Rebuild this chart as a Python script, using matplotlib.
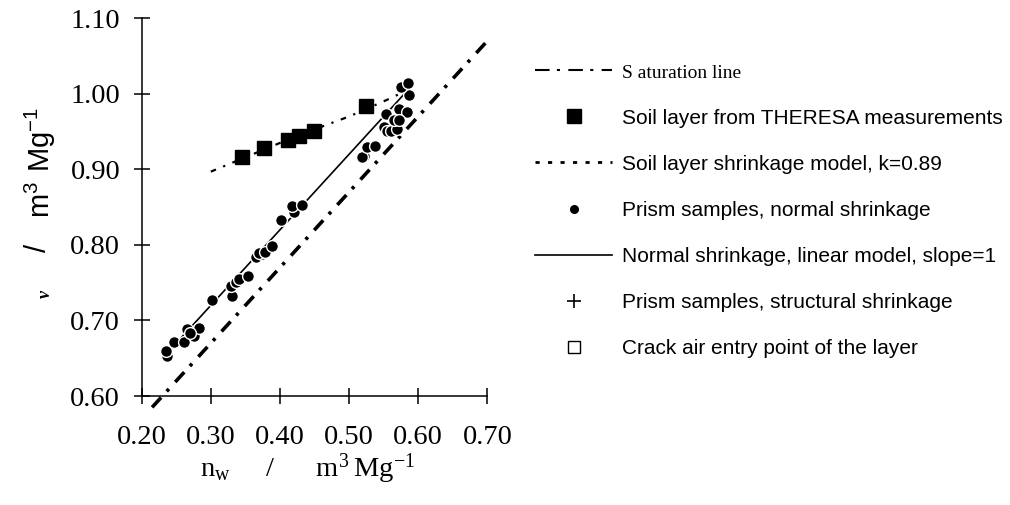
import matplotlib
matplotlib.use("Agg")
import matplotlib.pyplot as plt
from matplotlib.lines import Line2D

# saturation line (slope 1)
sat_nw = [0.215, 0.70]
sat_v = [0.585, 1.07]

# soil layer, THERESA measurements
layer_nw = [0.345, 0.377, 0.411, 0.427, 0.449, 0.524]
layer_v = [0.917, 0.928, 0.939, 0.944, 0.951, 0.984]

# soil layer shrinkage model, k=0.89
model_nw = [0.30, 0.35, 0.40, 0.45, 0.50, 0.55, 0.585]
model_v = [0.897, 0.916, 0.935, 0.953, 0.970, 0.990, 1.005]

# normal shrinkage linear model, slope 1
lin_nw = [0.23, 0.585]
lin_v = [0.650, 1.005]

# prism samples, normal shrinkage
prism_nw = [0.237, 0.235, 0.247, 0.261, 0.266, 0.276, 0.283, 0.270, 0.301,
            0.331, 0.329, 0.336, 0.341, 0.354, 0.365, 0.374, 0.370, 0.379,
            0.389, 0.401, 0.420, 0.418, 0.432, 0.521, 0.519, 0.526, 0.538,
            0.550, 0.555, 0.560, 0.570, 0.553, 0.572, 0.584, 0.565, 0.572,
            0.586, 0.575, 0.585]
prism_v = [0.653, 0.660, 0.672, 0.672, 0.689, 0.680, 0.690, 0.684, 0.727,
           0.733, 0.746, 0.751, 0.755, 0.759, 0.784, 0.788, 0.789, 0.791,
           0.798, 0.833, 0.844, 0.851, 0.853, 0.918, 0.916, 0.929, 0.931,
           0.956, 0.951, 0.951, 0.954, 0.973, 0.980, 0.976, 0.965, 0.965,
           0.998, 1.009, 1.014]

xticks = [0.20, 0.30, 0.40, 0.50, 0.60, 0.70]
yticks = [0.60, 0.70, 0.80, 0.90, 1.00, 1.10]

legend_labels = [
    "S aturation line",
    "Soil layer from THERESA measurements",
    "Soil layer shrinkage model, k=0.89",
    "Prism samples, normal shrinkage",
    "Normal shrinkage, linear model, slope=1",
    "Prism samples, structural shrinkage",
    "Crack air entry point of the layer",
]

serif = "Liberation Serif"
sans = "Liberation Sans"

fig = plt.figure(figsize=(10.1, 5.05), dpi=100)
ax = fig.add_axes([0.1403, 0.2158, 0.3422, 0.748])

ax.plot(sat_nw, sat_v, color="k", lw=2.6, dashes=(3.7, 2.3, 0.9, 2.6),
        clip_on=False, zorder=2)
ax.plot(lin_nw, lin_v, color="k", lw=1.2, zorder=2)
ax.plot(model_nw, model_v, color="k", lw=1.6, dashes=(2.5, 3.5, 1, 3.5), zorder=2)
ax.plot(layer_nw, layer_v, "s", color="k", ms=9.5, zorder=3)
ax.plot(prism_nw, prism_v, "o", mfc="k", mec="white", mew=1.0, ms=8.5, zorder=4)

ax.set_xlim(0.20, 0.70)
ax.set_ylim(0.60, 1.10)
ax.set_xticks(xticks)
ax.set_yticks(yticks)
ax.set_xticklabels([f"{t:.2f}" for t in xticks], family=serif, fontsize=20.5)
ax.set_yticklabels([f"{t:.2f}" for t in yticks], family=serif, fontsize=20.5)
ax.tick_params(axis="x", direction="inout", length=12, width=1.1, pad=15)
ax.tick_params(axis="y", direction="inout", length=11, width=1.1, pad=10)
for s in ["top", "right"]:
    ax.spines[s].set_visible(False)
for s in ["left", "bottom"]:
    ax.spines[s].set_linewidth(1.1)

# axis titles
fig.text(308 / 1010, 1 - 477 / 505,
         r"$\mathregular{n_w}$     /      $\mathregular{m^3\,Mg^{-1}}$",
         family=serif, fontsize=20.5, ha="center", va="baseline")
fig.text(50 / 1010, 1 - 162 / 505, r"$\mathregular{m^3\ Mg^{-1}}$",
         family=sans, fontsize=21, rotation=90, rotation_mode="anchor",
         ha="center", va="baseline")
fig.text(46 / 1010, 1 - 248 / 505, "/", family=sans, fontsize=21,
         rotation=90, rotation_mode="anchor", ha="center", va="baseline")
fig.text(50 / 1010, 1 - 294 / 505, "ν", family=serif, style="italic",
         weight="bold", fontsize=13, rotation=90, rotation_mode="anchor",
         ha="center", va="baseline")

handles = [
    Line2D([], [], color="k", lw=1.5, dashes=(7, 3.5, 1.5, 4)),
    Line2D([], [], marker="s", ls="none", color="k", ms=9.5),
    Line2D([], [], color="k", lw=2, dashes=(1.5, 3)),
    Line2D([], [], marker="o", ls="none", color="k", ms=5.5),
    Line2D([], [], color="k", lw=1.2),
    Line2D([], [], marker="+", ls="none", color="k", ms=10, mew=1.2),
    Line2D([], [], marker="s", ls="none", mfc="white", mec="k", ms=8, mew=1),
]
leg = fig.legend(handles, legend_labels, loc="upper left",
                 bbox_to_anchor=(535 / 1010, 1 - 63 / 505),
                 frameon=False, borderpad=0, borderaxespad=0,
                 handlelength=3.7, handletextpad=0.5, labelspacing=1.3,
                 prop={"family": sans, "size": 15})
leg.get_texts()[0].set_fontfamily(serif)
leg.get_texts()[0].set_fontsize(14)

fig.savefig("out.png", dpi=100)
